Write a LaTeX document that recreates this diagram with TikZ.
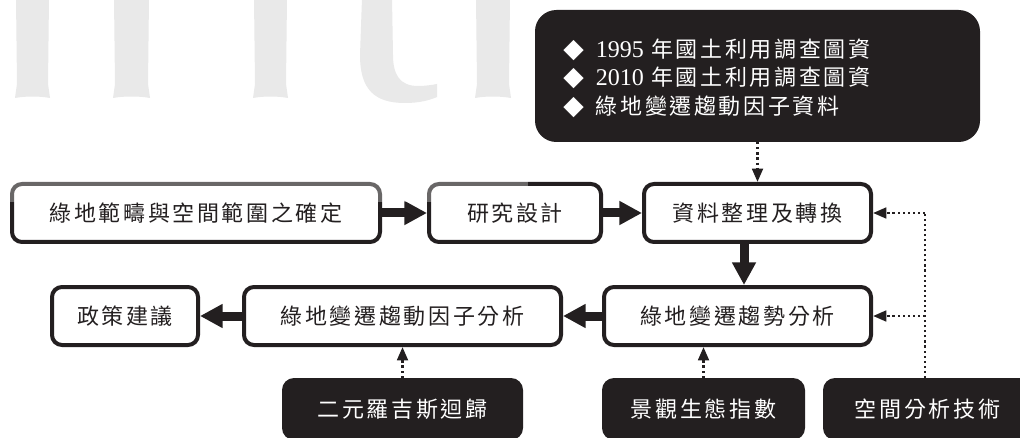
\documentclass[tikz,border=0pt]{standalone}
\usepackage{fontspec}
\setmainfont{Liberation Serif}
\newfontfamily\cjk[LetterSpace=12]{Noto Sans CJK TC}
\newfontfamily\symf{DejaVu Sans}
\usetikzlibrary{arrows.meta}
\definecolor{blk}{RGB}{35,31,32}
\definecolor{wm}{RGB}{233,233,233}
\newcommand{\dmd}{{\symf\fontsize{20pt}{20pt}\selectfont ◆}\hspace{9pt}}
\begin{document}
\begin{tikzpicture}[x=0.75pt,y=-0.75pt,
  cjkfont/.style={font=\cjk\fontsize{16.5pt}{20pt}\selectfont},
  wbox/.style={draw=blk, line width=3pt, rounded corners=7.5pt, fill=white,
    inner sep=0pt, minimum height=43.5pt, text=blk, cjkfont},
  bbox/.style={fill=blk, rounded corners=9pt, inner sep=0pt,
    minimum height=46.5pt, text=white, cjkfont},
  tline/.style={anchor=west, inner sep=0pt, text=white, cjkfont},
  fat/.style={blk, line width=6.75pt, -{Triangle[length=17pt,width=17pt]}},
  dotarrow/.style={blk, line width=2pt, dash pattern=on 1.6pt off 2.2pt,
    -{Triangle[length=10pt,width=8pt]}},
  dotline/.style={blk, line width=2pt, dash pattern=on 1.6pt off 2.2pt},
  wmark/.style={fill=wm, draw=none}]
\useasboundingbox (0,0) rectangle (1020,438);
\clip (0,0) rectangle (1020,438);
\fill[white] (0,0) rectangle (1020,438);

% faint background lettering
\path[wmark] (16,-2) -- (17,84) -- (15,98) .. controls (25,96) and (40,96) .. (50,98) -- (48,84) -- (49,-2) -- cycle;
\path[wmark] (114,-2) -- (115,84) -- (113,98) .. controls (123,96) and (140,96) .. (150,98) -- (148,84) -- (149,-2) -- cycle;
\path[wmark] (254,-2) -- (255,84) -- (253,98) .. controls (263,96) and (278,96) .. (288,98) -- (286,84) -- (287,-2) -- cycle;
\path[wmark] (362,-2) -- (360,55) .. controls (360,90) and (375,103) .. (405,103)
  .. controls (420,103) and (430,100) .. (437,97) -- (437,84)
  .. controls (432,85) and (425,86) .. (418,86)
  .. controls (400,86) and (393,75) .. (393,55) -- (392,-2) -- cycle;
\path[wmark] (476,-2) -- (477,84) -- (475,98) .. controls (485,96) and (500,96) .. (511,98) -- (509,84) -- (510,-2) -- cycle;

% top data box
\node[bbox, rounded corners=16pt, minimum width=333.75pt, minimum height=99pt] (T) at (757.5,76) {};
\node[tline] (t1) at (563,50) {\dmd{\rmfamily\fontsize{18pt}{20pt}\selectfont 1995} 年國土利用調查圖資};
\node[tline] (t2) at (563,78) {\dmd{\rmfamily\fontsize{18pt}{20pt}\selectfont 2010} 年國土利用調查圖資};
\node[tline] (t3) at (563,107) {\dmd 綠地變遷趨動因子資料};

% process boxes
\node[wbox, minimum width=276pt] (A) at (196,213) {綠地範疇與空間範圍之確定};
\node[wbox, minimum width=129pt] (B) at (515,213) {研究設計};
\node[wbox, minimum width=170.25pt] (C) at (757.5,213) {資料整理及轉換};
\node[wbox, minimum width=200.25pt] (D) at (737.5,316) {綠地變遷趨勢分析};
\node[wbox, minimum width=237.75pt] (E) at (402.5,316) {綠地變遷趨動因子分析};
\node[wbox, minimum width=109.5pt] (F) at (125,316) {政策建議};

% method boxes
\node[bbox, minimum width=180.75pt] (G) at (402.5,409) {二元羅吉斯迴歸};
\node[bbox, minimum width=152.25pt] (H) at (703.5,409) {景觀生態指數};
\node[bbox, minimum width=156.75pt] (I) at (927.5,409) {空間分析技術};

% main flow
\coordinate (cd) at (744,0);
\draw[fat] (A.east) -- (B.west);
\draw[fat] (B.east) -- (C.west);
\draw[fat] (C.south -| cd) -- (D.north -| cd);
\draw[fat] (D.west) -- (E.east);
\draw[fat] (E.west) -- (F.east);

% dotted inputs
\draw[dotarrow] (T.south) -- (C.north);
\draw[dotarrow] (G.north) -- (E.south);
\draw[dotarrow] (H.north) -- (H.north |- D.south);
\coordinate (iu) at (925,378);
\draw[dotline] (iu) -- (iu |- C.east);
\draw[dotarrow] (iu |- C.east) -- (C.east);
\draw[dotarrow] (iu |- D.east) -- (D.east);

% faint overlay band seen on the first row
\fill[white, opacity=0.32] (0,168) rectangle (528,202);
\end{tikzpicture}
\end{document}
